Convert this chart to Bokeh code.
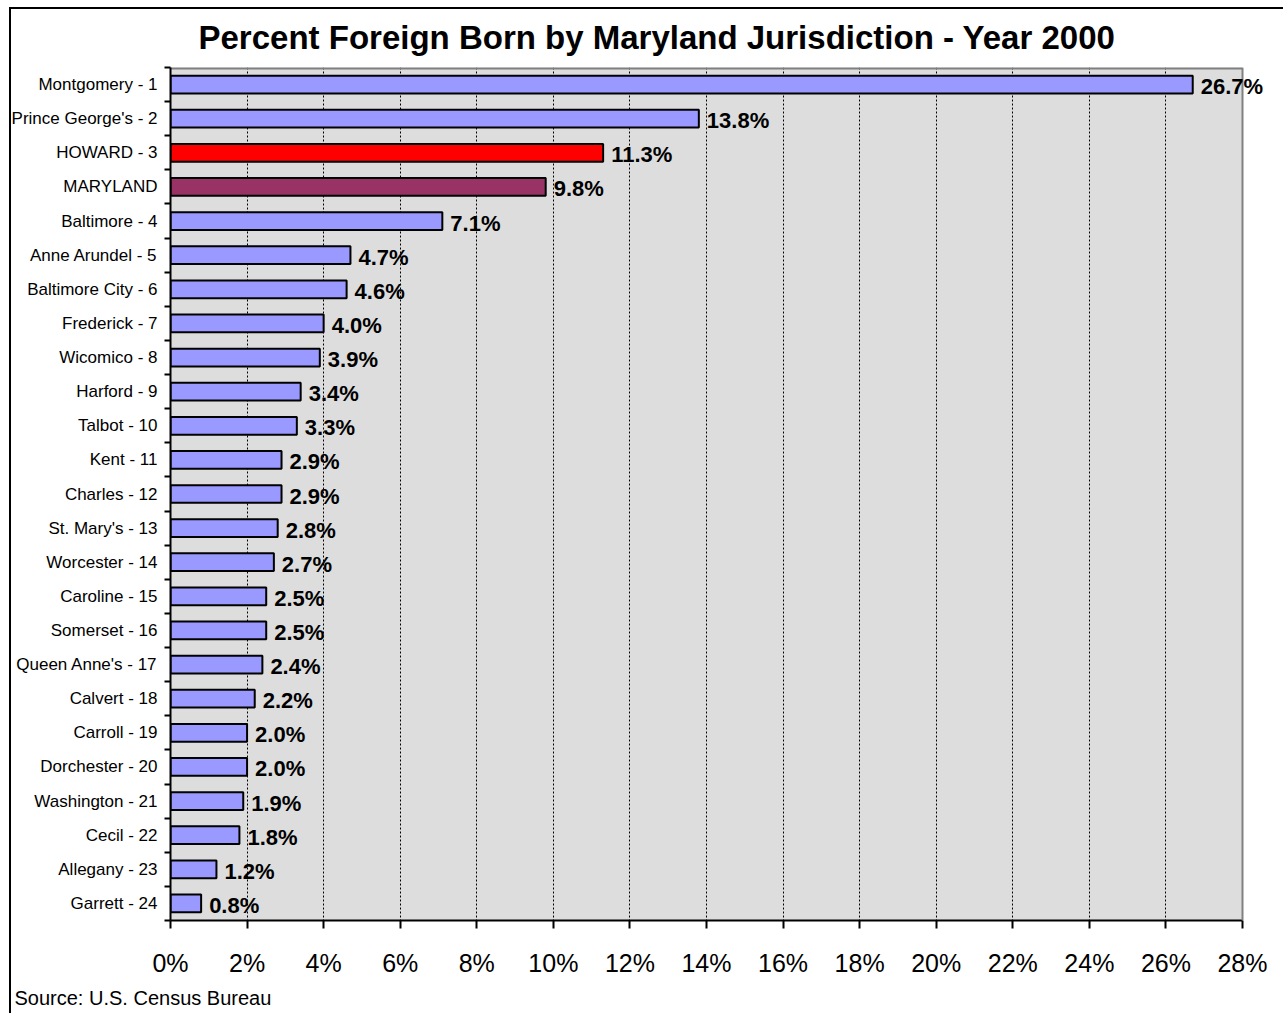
from bokeh.plotting import figure
from bokeh.models import (Range1d, FixedTicker, PrintfTickFormatter, ColumnDataSource,
                          LabelSet, Title, BoxAnnotation, Span)
from bokeh.core.properties import value
from bokeh.embed import file_html
from bokeh.resources import INLINE

jurisdictions = ["Montgomery - 1", "Prince George's - 2", "HOWARD - 3", "MARYLAND",
                 "Baltimore - 4", "Anne Arundel - 5", "Baltimore City - 6", "Frederick - 7",
                 "Wicomico - 8", "Harford - 9", "Talbot - 10", "Kent - 11", "Charles - 12",
                 "St. Mary's - 13", "Worcester - 14", "Caroline - 15", "Somerset - 16",
                 "Queen Anne's - 17", "Calvert - 18", "Carroll - 19", "Dorchester - 20",
                 "Washington - 21", "Cecil - 22", "Allegany - 23", "Garrett - 24"]
pct_foreign_born = [26.7, 13.8, 11.3, 9.8, 7.1, 4.7, 4.6, 4.0, 3.9, 3.4, 3.3, 2.9, 2.9,
                    2.8, 2.7, 2.5, 2.5, 2.4, 2.2, 2.0, 2.0, 1.9, 1.8, 1.2, 0.8]
x_ticks = list(range(0, 29, 2))
x_max = 28

BLUE, RED, PLUM = "#9999FF", "#FF0000", "#993366"
colors = [RED if j.startswith("HOWARD") else PLUM if j == "MARYLAND" else BLUE
          for j in jurisdictions]
n = len(jurisdictions)
pos = list(range(n))

src = ColumnDataSource(dict(y=pos, v=pct_foreign_born, c=colors,
                            lab=[f"{v:.1f}%" for v in pct_foreign_born]))

W, H = 1283, 1013
LEFT, TOP, BOTTOM = 170, 67, 91
AXIS_RIGHT_PX = 1242          # pixel position of the 28% end of the axis
RIGHT = 8
frame_w = W - LEFT - RIGHT
x_end = x_max * frame_w / (AXIS_RIGHT_PX - LEFT)   # room for labels past 28%

p = figure(width=W, height=H, output_backend="svg", toolbar_location=None,
           x_range=Range1d(0, x_end), y_range=Range1d(n - 0.5, -0.5),
           min_border_left=LEFT, min_border_right=RIGHT, min_border_top=TOP,
           min_border_bottom=BOTTOM)
p.border_fill_color = None
p.background_fill_color = None
p.outline_line_color = None
p.styles = {"background": "linear-gradient(#000,#000) 9px 7px / 2px calc(100% - 7px) no-repeat, "
                          "linear-gradient(#000,#000) 9px 7px / calc(100% - 9px) 2px no-repeat"}

# gray plot area up to 28%
p.add_layout(BoxAnnotation(left=0, right=x_max, fill_color="#DDDDDD", fill_alpha=1,
                           line_color=None, level="image"))
p.segment(x0=[0], x1=[x_max], y0=[-0.5], y1=[-0.5], line_color="#808080", line_width=4)
p.add_layout(Span(location=x_max, dimension="height", line_color="#808080", line_width=2))

p.hbar(y="y", right="v", left=0, height=0.52, fill_color="c", line_color="black",
       line_width=2, source=src)

labels = LabelSet(x="v", y="y", text="lab", source=src, x_offset=8, y_offset=-2,
                  text_font=value("Liberation Sans"), text_font_style="bold",
                  text_font_size="22px", text_baseline="middle", text_color="black")
p.add_layout(labels)

# title
p.title.text = "Percent Foreign Born by Maryland Jurisdiction - Year 2000"
p.title.align = "left"
p.title.offset = 28
p.title.standoff = 24
p.title.text_font = "Liberation Sans"
p.title.text_font_style = "bold"
p.title.text_font_size = "33px"
p.title.text_color = "black"

# x axis
xa = p.xaxis[0]
xa.bounds = (0, x_max)
xa.ticker = FixedTicker(ticks=x_ticks)
xa.formatter = PrintfTickFormatter(format="%d%%")
xa.major_label_text_font = "Liberation Sans"
xa.major_label_text_font_size = "25px"
xa.major_label_text_color = "black"
xa.major_label_standoff = 20
xa.major_tick_out = 8
xa.major_tick_in = 0
xa.minor_tick_out = 0
xa.minor_tick_in = 0
xa.axis_line_color = "black"
xa.axis_line_width = 2
xa.major_tick_line_width = 2
xa.major_tick_line_color = "black"

# y axis
ya = p.yaxis[0]
ya.ticker = FixedTicker(ticks=pos, minor_ticks=[i - 0.5 for i in range(n + 1)])
ya.major_label_overrides = {i: j for i, j in zip(pos, jurisdictions)}
ya.major_label_text_font = "Liberation Sans"
ya.major_label_text_font_size = "17px"
ya.major_label_text_color = "black"
ya.major_tick_out = 0
ya.major_tick_in = 0
ya.major_tick_line_color = None
ya.minor_tick_out = 6
ya.minor_tick_in = 0
ya.minor_tick_line_color = "black"
ya.minor_tick_line_width = 2
ya.major_label_standoff = 7
ya.axis_line_color = "black"
ya.axis_line_width = 2

p.xgrid.ticker = FixedTicker(ticks=x_ticks[1:-1])
p.xgrid.grid_line_color = "black"
p.xgrid.grid_line_dash = "2 2"
p.xgrid.grid_line_width = 1
p.ygrid.grid_line_color = None

source_note = Title(text="Source: U.S. Census Bureau", align="left", offset=-156,
                    text_font="Liberation Sans", text_font_size="20px",
                    text_font_style="normal", text_color="black")
p.add_layout(source_note, "below")

open("out.html", "w").write(file_html(p, INLINE))
